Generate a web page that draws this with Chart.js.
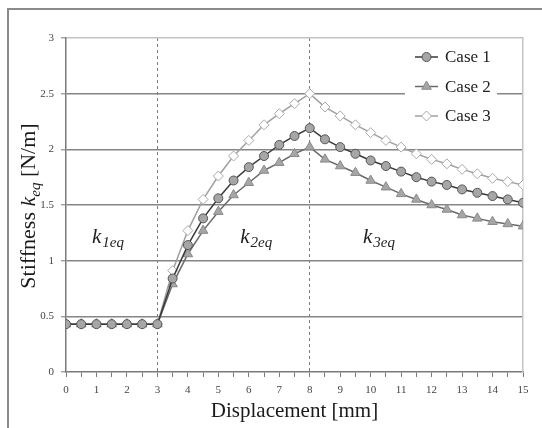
<!DOCTYPE html>
<html>
<head>
<meta charset="utf-8">
<script src="https://cdn.jsdelivr.net/npm/chart.js@4.4.0/dist/chart.umd.min.js"></script>
<style>
  html, body { margin: 0; padding: 0; background: #fff; }
  #wrap { position: relative; width: 542px; height: 428px; }
  #frame { position: absolute; left: 7px; top: 8px; right: 0; bottom: 0; border-top: 2px solid #8a8a8a; border-left: 2px solid #8a8a8a; }
  canvas { position: absolute; left: 0; top: 0; }
</style>
</head>
<body>
<div id="wrap">
  <div id="frame"></div>
  <canvas id="stiffChart" width="542" height="428"></canvas>
</div>
<script>
// displacement [mm]
const displacement = [0, 0.5, 1, 1.5, 2, 2.5, 3, 3.5, 4, 4.5, 5, 5.5, 6, 6.5, 7, 7.5, 8,
  8.5, 9, 9.5, 10, 10.5, 11, 11.5, 12, 12.5, 13, 13.5, 14, 14.5, 15];

// stiffness k_eq [N/m]
const case1 = [0.43, 0.43, 0.43, 0.43, 0.43, 0.43, 0.43, 0.84, 1.14, 1.38, 1.56, 1.72, 1.84, 1.94, 2.04, 2.12, 2.19,
  2.09, 2.02, 1.96, 1.90, 1.85, 1.80, 1.75, 1.71, 1.68, 1.64, 1.61, 1.58, 1.55, 1.52];
const case2 = [0.43, 0.43, 0.43, 0.43, 0.43, 0.43, 0.43, 0.79, 1.06, 1.27, 1.44, 1.59, 1.70, 1.81, 1.88, 1.96, 2.02,
  1.91, 1.85, 1.79, 1.72, 1.66, 1.60, 1.55, 1.50, 1.46, 1.41, 1.38, 1.35, 1.33, 1.31];
const case3 = [0.43, 0.43, 0.43, 0.43, 0.43, 0.43, 0.43, 0.91, 1.27, 1.55, 1.76, 1.94, 2.08, 2.22, 2.32, 2.41, 2.50,
  2.38, 2.30, 2.22, 2.15, 2.08, 2.02, 1.96, 1.91, 1.87, 1.82, 1.78, 1.74, 1.71, 1.68];

const caseNames = ['Case 1', 'Case 2', 'Case 3'];
const regionBounds = [3, 8];   // dashed vertical lines
const regionLabels = [
  { x: 0.85, y: 1.16, sub: '1eq' },
  { x: 5.72, y: 1.16, sub: '2eq' },
  { x: 9.75, y: 1.16, sub: '3eq' }
];

function toPoints(vals) {
  return vals.map((v, i) => ({ x: displacement[i], y: v }));
}

const serif = '"Liberation Serif", "Times New Roman", serif';

// k_1eq, k_2eq, k_3eq labels + rotated y title
const textPlugin = {
  id: 'textPlugin',
  afterDraw(chart) {
    const ctx = chart.ctx;
    const xs = chart.scales.x, ys = chart.scales.y;
    ctx.save();
    ctx.fillStyle = '#222';
    ctx.textBaseline = 'alphabetic';
    regionLabels.forEach(lb => {
      const px = xs.getPixelForValue(lb.x);
      const py = ys.getPixelForValue(lb.y);
      ctx.font = 'italic 21px ' + serif;
      ctx.textAlign = 'left';
      ctx.fillText('k', px, py);
      const w = ctx.measureText('k').width;
      ctx.font = 'italic 15px ' + serif;
      ctx.fillText(lb.sub, px + w + 1, py + 4);
    });

    // y axis title
    ctx.translate(35, 206);
    ctx.rotate(-Math.PI / 2);
    const parts = [
      { t: 'Stiffness ', f: '22px ' + serif, dy: 0 },
      { t: 'k', f: 'italic 22px ' + serif, dy: 0 },
      { t: 'eq', f: 'italic 15px ' + serif, dy: 5 },
      { t: ' [N/m]', f: '22px ' + serif, dy: 0 }
    ];
    let total = 0;
    parts.forEach(p => { ctx.font = p.f; p.w = ctx.measureText(p.t).width; total += p.w; });
    let cx = -total / 2;
    ctx.fillStyle = '#1a1a1a';
    parts.forEach(p => { ctx.font = p.f; ctx.fillText(p.t, cx, p.dy); cx += p.w; });
    ctx.restore();
  }
};

// legend drawn inside the plot, top right
const legendPlugin = {
  id: 'insideLegend',
  afterDraw(chart) {
    const ctx = chart.ctx;
    const left = 405, top = 42;
    ctx.save();
    ctx.fillStyle = '#fff';
    ctx.fillRect(left, top, 92, 88);
    chart.data.datasets.forEach((ds, i) => {
      const y = 57 + i * 29.5;
      ctx.strokeStyle = ds.borderColor;
      ctx.lineWidth = ds.borderWidth;
      ctx.beginPath();
      ctx.moveTo(left + 10, y);
      ctx.lineTo(left + 33, y);
      ctx.stroke();
      ctx.fillStyle = ds.pointBackgroundColor;
      ctx.strokeStyle = ds.pointBorderColor;
      ctx.lineWidth = ds.pointBorderWidth;
      Chart.helpers.drawPoint(ctx, { pointStyle: ds.pointStyle, radius: ds.pointRadius, rotation: 0, borderWidth: ds.pointBorderWidth }, left + 21.5, y);
      ctx.fillStyle = '#222';
      ctx.font = '17px ' + serif;
      ctx.textBaseline = 'middle';
      ctx.fillText(ds.label, left + 40, y + 1);
    });
    ctx.restore();
  }
};

const ctx = document.getElementById('stiffChart').getContext('2d');
new Chart(ctx, {
  type: 'line',
  data: {
    datasets: [
      {
        label: caseNames[0], data: toPoints(case1),
        borderColor: '#3a3a3a', borderWidth: 1.5,
        pointStyle: 'circle', pointRadius: 4.5, pointBorderWidth: 1,
        pointBackgroundColor: '#a6a6a6', pointBorderColor: '#555'
      },
      {
        label: caseNames[1], data: toPoints(case2),
        borderColor: '#6a6a6a', borderWidth: 1.5,
        pointStyle: 'triangle', pointRadius: 5.5, pointBorderWidth: 1,
        pointBackgroundColor: '#a6a6a6', pointBorderColor: '#8a8a8a'
      },
      {
        label: caseNames[2], data: toPoints(case3),
        borderColor: '#a0a0a0', borderWidth: 1.5,
        pointStyle: 'rectRot', pointRadius: 5, pointBorderWidth: 1,
        pointBackgroundColor: '#ffffff', pointBorderColor: '#a8a8a8'
      }
    ]
  },
  options: {
    responsive: false,
    animation: false,
    layout: { padding: { left: 8, right: 19, top: 38, bottom: 0 } },
    plugins: {
      legend: { display: false },
      tooltip: { enabled: false }
    },
    scales: {
      x: {
        type: 'linear', min: 0, max: 15,
        afterFit(scale) { scale.height = 56; },
        ticks: {
          stepSize: 0.5, autoSkip: false, maxRotation: 0, padding: 7,
          color: '#444', font: { family: serif, size: 11 },
          callback: v => Number.isInteger(v) ? String(v) : ''
        },
        grid: {
          color: c => regionBounds.includes(c.tick && c.tick.value) ? '#7a7a7a' : 'rgba(0,0,0,0)',
          lineWidth: 1, tickColor: '#7a7a7a', tickLength: 5, tickWidth: 1
        },
        border: { color: '#7a7a7a', width: 1.5, dash: [3, 3] },
        title: {
          display: true, text: 'Displacement [mm]', color: '#1a1a1a',
          font: { family: serif, size: 21 }, padding: { top: 0, bottom: 4 }
        }
      },
      y: {
        min: 0, max: 3,
        afterFit(scale) { scale.width = 58; },
        ticks: {
          stepSize: 0.5, padding: 7, color: '#444',
          font: { family: serif, size: 11 },
          callback: v => String(v)
        },
        grid: {
          color: c => {
            const v = c.tick && c.tick.value;
            if (v === 0) return 'rgba(0,0,0,0)';
            return v === 3 ? '#c4c4c4' : '#858585';
          },
          lineWidth: 1.6, tickColor: '#7a7a7a', tickLength: 5, tickWidth: 1
        },
        border: { color: '#7a7a7a', width: 1.5 }
      },
      yRight: {
        position: 'right', min: 0, max: 3,
        afterFit(scale) { scale.width = 0; },
        ticks: { display: false },
        grid: { drawOnChartArea: false, drawTicks: false },
        border: { color: '#c4c4c4', width: 1.5 }
      }
    }
  },
  plugins: [legendPlugin, textPlugin]
});
</script>
</body>
</html>
